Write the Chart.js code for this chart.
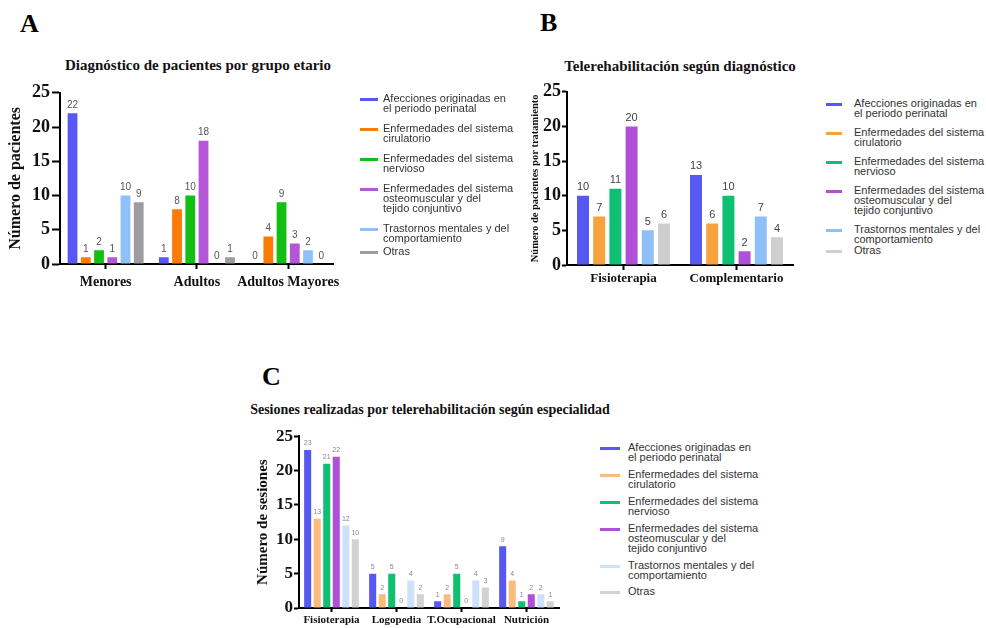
<!DOCTYPE html>
<html>
<head>
<meta charset="utf-8">
<script src="https://cdn.jsdelivr.net/npm/chart.js@4/dist/chart.umd.min.js"></script>
<style>
  body { margin: 0; background: #fff; width: 986px; height: 628px; overflow: hidden; position: relative; }
  canvas, .abs { position: absolute; }
  .letra { font: bold 26px "Liberation Serif", "Times New Roman", serif; line-height: 26px; color: #000; }
  .titulo { font: bold 15px "Liberation Serif", "Times New Roman", serif; line-height: 15px; color: #111; white-space: nowrap; transform: translateX(-50%); }
  .leyenda { font: 11px "Liberation Sans", Arial, sans-serif; line-height: 10px; color: #333; white-space: nowrap; }
  .item { display: flex; align-items: flex-start; }
  .marca { height: 3px; margin-top: 5px; flex: none; }
  .txt { white-space: pre-line; }
</style>
</head>
<body>
<div class="abs letra" style="left:20px; top:11px">A</div>
<div class="abs letra" style="left:540px; top:10px">B</div>
<div class="abs letra" style="left:262px; top:364px">C</div>

<div class="abs titulo" style="left:198px; top:58px">Diagnóstico de pacientes por grupo etario</div>
<div class="abs titulo" style="left:680px; top:59px">Telerehabilitación según diagnóstico</div>
<div class="abs titulo" style="left:430px; top:402px; font-size:14px">Sesiones realizadas por telerehabilitación según especialidad</div>

<canvas id="chartA" width="345" height="215" style="left:0px; top:80px"></canvas>
<canvas id="chartB" width="295" height="215" style="left:505px; top:80px"></canvas>
<canvas id="chartC" width="335" height="205" style="left:240px; top:425px"></canvas>

<div id="leyendaA" class="abs leyenda" style="left:360px; top:93px"></div>
<div id="leyendaB" class="abs leyenda" style="left:826px; top:98px"></div>
<div id="leyendaC" class="abs leyenda" style="left:600px; top:442px"></div>

<script>
'use strict'
// categorias de cada grafico
const gruposA = ['Menores', 'Adultos', 'Adultos Mayores']
const gruposB = ['Fisioterapia', 'Complementario']
const gruposC = ['Fisioterapia', 'Logopedia', 'T.Ocupacional', 'Nutrición']

// diagnosticos (series)
const diagnosticos = [
    'Afecciones originadas en\nel periodo perinatal',
    'Enfermedades del sistema\ncirulatorio',
    'Enfermedades del sistema\nnervioso',
    'Enfermedades del sistema\nosteomuscular y del\ntejido conjuntivo',
    'Trastornos mentales y del\ncomportamiento',
    'Otras'
]

// A: pacientes por grupo etario (una lista por diagnostico)
const perinatalA = [22, 1, 0]
const circulatorioA = [1, 8, 4]
const nerviosoA = [2, 10, 9]
const osteomuscularA = [1, 18, 3]
const mentalesA = [10, 0, 2]
const otrasA = [9, 1, 0]

// B: telerehabilitacion segun diagnostico
const perinatalB = [10, 13]
const circulatorioB = [7, 6]
const nerviosoB = [11, 10]
const osteomuscularB = [20, 2]
const mentalesB = [5, 7]
const otrasB = [6, 4]

// C: sesiones por especialidad
const perinatalC = [23, 5, 1, 9]
const circulatorioC = [13, 2, 2, 4]
const nerviosoC = [21, 5, 5, 1]
const osteomuscularC = [22, 0, 0, 2]
const mentalesC = [12, 4, 4, 2]
const otrasC = [10, 2, 3, 1]

const ticksY = [0, 5, 10, 15, 20, 25]

const coloresA = ['#5858f6', '#fb7b06', '#12bf12', '#b357d8', '#8ec0f9', '#9d9da1']
const coloresB = ['#5757f2', '#f8a23f', '#0fbf72', '#b050d6', '#8ebff7', '#cfcfcf']
const coloresC = ['#5757f2', '#fbbb7c', '#0fbf72', '#b050d6', '#cde1fb', '#d2d2d2']

const serif = '"Liberation Serif", "Times New Roman", serif'

// plugin para escribir el valor encima de cada barra
const valoresBarras = {
    id: 'valoresBarras',
    afterDatasetsDraw(chart, args, opts) {
        const ctx = chart.ctx
        ctx.save()
        ctx.font = opts.font
        ctx.fillStyle = opts.color
        ctx.textAlign = 'center'
        ctx.textBaseline = 'bottom'
        chart.data.datasets.forEach((ds, i) => {
            chart.getDatasetMeta(i).data.forEach((bar, j) => {
                ctx.fillText(ds.data[j], bar.x, bar.y - opts.offset)
            })
        })
        ctx.restore()
    }
}

function crearGrafico(id, grupos, series, colores, cfg) {
    const ctx = document.getElementById(id).getContext('2d')
    return new Chart(ctx, {
        type: 'bar',
        data: {
            labels: grupos,
            datasets: series.map((s, i) => ({
                label: diagnosticos[i].replace(/\n/g, ' '),
                data: s,
                backgroundColor: colores[i],
                borderWidth: 0,
                categoryPercentage: cfg.catPct,
                barPercentage: 0.74
            }))
        },
        options: {
            responsive: false,
            animation: false,
            layout: { padding: { top: 11, right: cfg.right, left: 0, bottom: 0 } },
            plugins: {
                legend: { display: false },
                tooltip: { enabled: false },
                valoresBarras: { font: cfg.valFont, color: cfg.valColor, offset: 3 }
            },
            scales: {
                x: {
                    afterFit: s => { s.height = cfg.xHeight },
                    border: { color: '#000', width: 2 },
                    grid: { drawOnChartArea: false, offset: false, tickLength: cfg.xTick, tickColor: '#000', tickWidth: 2 },
                    ticks: {
                        color: '#111', padding: cfg.xPad, autoSkip: false, maxRotation: 0, minRotation: 0,
                        font: { family: serif, weight: 'bold', size: cfg.xFont }
                    }
                },
                y: {
                    min: 0,
                    max: 25,
                    afterFit: s => { s.width = cfg.yWidth },
                    afterBuildTicks: s => { s.ticks = ticksY.map(v => ({ value: v })) },
                    border: { color: '#000', width: 2 },
                    grid: { drawOnChartArea: false, tickLength: cfg.yTick, tickColor: '#000', tickWidth: 2 },
                    ticks: { color: '#111', padding: cfg.yPad, font: { family: serif, weight: 'bold', size: cfg.yFont } },
                    title: {
                        display: true,
                        text: cfg.yTitle,
                        color: '#111',
                        padding: { top: cfg.titlePad, bottom: 0 },
                        font: { family: serif, weight: 'bold', size: cfg.titleFont }
                    }
                }
            }
        },
        plugins: [valoresBarras]
    })
}

// leyenda en html con lineas de color
function crearLeyenda(id, colores, marcaW, sep, gap, ultimoGap) {
    const cont = document.getElementById(id)
    diagnosticos.forEach((d, i) => {
        const item = document.createElement('div')
        item.className = 'item'
        if (i > 0) item.style.marginTop = (i === diagnosticos.length - 1 ? ultimoGap : gap) + 'px'
        item.innerHTML = `<span class="marca" style="width:${marcaW}px;margin-right:${sep}px;background:${colores[i]}"></span><span class="txt">${d}</span>`
        cont.appendChild(item)
    })
}

crearGrafico('chartA', gruposA,
    [perinatalA, circulatorioA, nerviosoA, osteomuscularA, mentalesA, otrasA], coloresA, {
        catPct: 0.87, right: 5, xHeight: 31, xTick: 5, xPad: 5, xFont: 14,
        yWidth: 60, yTick: 8, yPad: 2, yFont: 18,
        yTitle: 'Número de pacientes', titleFont: 16, titlePad: 6,
        valFont: '10px "Liberation Sans", Arial, sans-serif', valColor: '#555'
    })

crearGrafico('chartB', gruposB,
    [perinatalB, circulatorioB, nerviosoB, osteomuscularB, mentalesB, otrasB], coloresB, {
        catPct: 0.86, right: 7, xHeight: 30, xTick: 5, xPad: 1, xFont: 13,
        yWidth: 62, yTick: 5, yPad: 1, yFont: 18,
        yTitle: 'Número de pacientes por tratamiento', titleFont: 10.5, titlePad: 24,
        valFont: '11px "Liberation Sans", Arial, sans-serif', valColor: '#444'
    })

crearGrafico('chartC', gruposC,
    [perinatalC, circulatorioC, nerviosoC, osteomuscularC, mentalesC, otrasC], coloresC, {
        catPct: 0.88, right: 16, xHeight: 22, xTick: 4, xPad: 2, xFont: 11,
        yWidth: 59, yTick: 5, yPad: 1, yFont: 17,
        yTitle: 'Número de sesiones', titleFont: 15, titlePad: 14,
        valFont: '7px "Liberation Sans", Arial, sans-serif', valColor: '#888'
    })

crearLeyenda('leyendaA', coloresA, 18, 5, 10, 3)
crearLeyenda('leyendaB', coloresB, 16, 12, 9, 1)
crearLeyenda('leyendaC', coloresC, 20, 8, 7, 6)
</script>
</body>
</html>
